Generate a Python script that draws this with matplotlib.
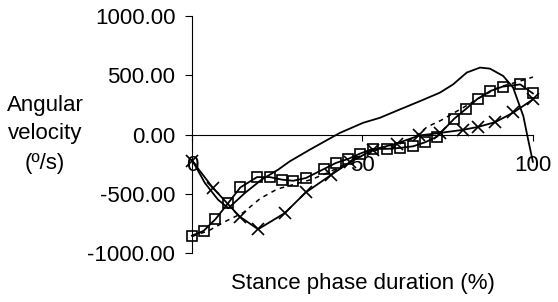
import matplotlib
matplotlib.use("Agg")
import matplotlib.pyplot as plt

plt.rcParams['font.family'] = ['Liberation Sans', 'DejaVu Sans']

# series with square markers
sq_x = [0, 3.4, 6.9, 10.6, 14.2, 19.1, 22.8, 26.5, 29.7, 33.4, 38.7, 42.2, 45.8, 49.3,
        53.0, 57.1, 61.0, 64.9, 68.4, 71.8, 76.9, 80.4, 83.8, 87.5, 91.1, 96.3, 100]
sq_y = [-853, -813, -714, -579, -446, -359, -359, -381, -390, -367, -291, -240, -206, -161,
        -121, -121, -113, -99, -65, -20, 133, 217, 302, 367, 404, 423, 347]

# series with x markers
cr_x = [0, 6.2, 14.0, 19.4, 27.2, 33.4, 40.9, 46.3, 53.2, 60.0, 66.7, 72.8, 79.6, 84.0,
        88.9, 94.3, 100]
cr_y = [-220, -452, -692, -799, -663, -488, -339, -234, -127, -76, -8, 14, 40, 65,
        104, 186, 296]

# dashed series
ds_x = [0, 5, 10, 15, 20, 25, 30, 35, 40, 45, 50, 55, 60, 65, 69, 73, 80, 85, 90, 95, 100]
ds_y = [-860, -810, -730, -660, -540, -460, -420, -380, -320, -250, -170, -125, -90, -30,
        65, 119, 235, 320, 400, 440, 485]

# plain solid series
sl_x = [0, 3.8, 7.7, 10.7, 15.5, 20.4, 25.3, 28.7, 34.6, 43.4, 50.2, 55.1, 61.0, 66.9,
        72.7, 76.6, 80.6, 84.5, 87.4, 91.3, 94.2, 97.2, 98.6, 100]
sl_y = [-212, -409, -551, -621, -494, -381, -296, -226, -127, 14, 99, 141, 212, 282,
        353, 423, 523, 565, 556, 494, 396, 155, -42, -230]

fig = plt.figure(figsize=(5.58, 3.02), dpi=100)
ax = fig.add_axes([0.344, 0.162, 0.611, 0.785])

ax.plot(sl_x, sl_y, color='black', lw=1.3, clip_on=False)
ax.plot(ds_x, ds_y, color='black', lw=1.1, ls=(0, (3, 3)), clip_on=False)
ax.plot(cr_x, cr_y, color='black', lw=1.3, marker='x', ms=8, mew=1.2, clip_on=False)
ax.plot(sq_x, sq_y, color='black', lw=1.3, marker='s', ms=6.5, mfc='none', mew=1.2,
        clip_on=False)

ax.set_xlim(0, 100)
ax.set_ylim(-1000, 1000)
ax.set_xticks([0, 50, 100])
ax.set_yticks([-1000, -500, 0, 500, 1000])
ax.set_yticklabels(['-1000.00', '-500.00', '0.00', '500.00', '1000.00'])

ax.spines['top'].set_visible(False)
ax.spines['right'].set_visible(False)
ax.spines['bottom'].set_position(('data', 0))
ax.spines['bottom'].set_linewidth(0.8)
ax.spines['left'].set_linewidth(0.8)
ax.tick_params(axis='x', direction='out', length=4, width=0.8, pad=11, labelsize=16)
ax.tick_params(axis='y', direction='out', length=5, width=0.8, pad=7, labelsize=16)

fig.text(45 / 558, 1 - 134 / 302, 'Angular\nvelocity\n(º/s)', ha='center', va='center',
         fontsize=16, linespacing=1.5)
fig.text(363 / 558, 1 - 283 / 302, 'Stance phase duration (%)', ha='center', va='center',
         fontsize=16)

fig.savefig('out.png', dpi=100)
